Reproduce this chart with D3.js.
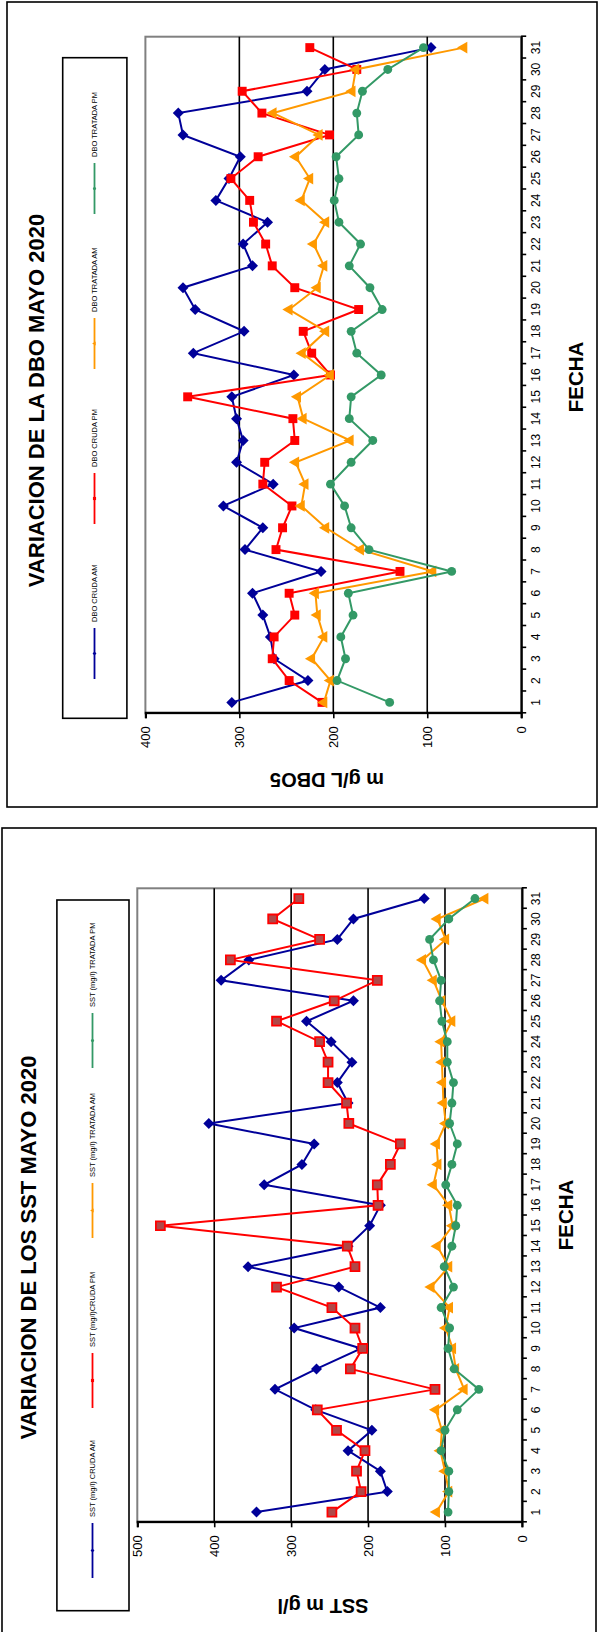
<!DOCTYPE html>
<html>
<head>
<meta charset="utf-8">
<script src="https://cdn.jsdelivr.net/npm/d3@7"></script>
<style>
body { margin: 0; background: #fff; }
svg { display: block; }
text { font-family: "Liberation Sans", Arial, sans-serif; fill: #000; }
</style>
</head>
<body>
<svg id="chart" width="603" height="1632"></svg>
<script>
// days of May 2020
var days = d3.range(1, 32);

// DBO5 (mg/L)
var dboCrudaAM   = [308, 227, 263, 267, 275, 286, 213, 294, 275, 317, 264, 303, 296, 303, 308, 242, 349, 295, 347, 360, 286, 296, 270, 325, 311, 299, 360, 365, 228, 209, 96];
var dboCrudaPM   = [212, 247, 265, 263, 241, 247, 129, 261, 254, 244, 275, 273, 241, 243, 355, 203, 223, 232, 173, 241, 265, 272, 285, 289, 309, 280, 204, 276, 297, 175, 225];
var dboTratadaAM = [210, 203, 223, 210, 217, 219, 94, 171, 208, 234, 230, 240, 182, 232, 238, 203, 233, 208, 247, 217, 210, 221, 208, 234, 225, 240, 215, 264, 180, 176, 61];
var dboTratadaPM = [140, 196, 187, 192, 179, 184, 74, 162, 181, 188, 203, 181, 158, 183, 181, 149, 175, 181, 148, 161, 183, 171, 194, 199, 194, 197, 173, 175, 169, 142, 104];
var dboLegend = ["DBO CRUDA AM", "DBO CRUDA PM", "DBO TRATADA AM", "DBO TRATADA PM"];
var dboTicks = [0, 100, 200, 300, 400];

// SST (mg/l)
var sstCrudaAM   = [345, 175, 184, 226, 195, 268, 321, 267, 209, 296, 184, 238, 356, 226, 198, 184, 335, 286, 270, 407, 226, 240, 221, 248, 280, 219, 391, 355, 240, 219, 127];
var sstCrudaPM   = [247, 209, 215, 204, 241, 266, 113, 223, 207, 217, 247, 319, 217, 227, 470, 187, 188, 171, 158, 225, 228, 252, 252, 263, 319, 244, 188, 379, 263, 324, 290];
var sstTratadaAM = [111, 95, 100, 106, 104, 112, 75, 86, 90, 99, 94, 118, 95, 110, 90, 95, 115, 109, 111, 99, 102, 103, 104, 105, 91, 104, 115, 129, 99, 110, 48];
var sstTratadaPM = [96, 95, 95, 105, 100, 84, 56, 88, 96, 94, 105, 89, 101, 91, 86, 84, 99, 91, 84, 94, 91, 89, 97, 97, 104, 107, 105, 115, 120, 95, 61];
var sstLegend = ["SST (mg/l) CRUDA AM", "SST (mg/l)CRUDA PM", "SST (mg/l) TRATADA AM", "SST (mg/l) TRATADA PM"];
var sstTicks = [0, 100, 200, 300, 400, 500];

var colors = ["#000099", "#ff0000", "#ff9900", "#339966"];
var markers = ["diamond", "square", "triangle", "circle"];

var svg = d3.select("#chart");

function markerPath(type, big) {
    var k = big ? 1 : 0.35;
    if (type === "diamond") {
        var s = 5.5 * k;
        return "M0," + (-s) + "L" + s + ",0L0," + s + "L" + (-s) + ",0Z";
    }
    if (type === "square") return d3.symbol(d3.symbolSquare, 80 * k * k)();
    if (type === "triangle") return d3.symbol(d3.symbolTriangle, 60 * k * k)();
    return d3.symbol(d3.symbolCircle, 62 * k * k)();
}

function drawPanel(cfg) {
    // the whole chart is drawn upright, then turned a quarter left
    var g = svg.append("g")
        .attr("transform", "translate(" + cfg.tx + "," + cfg.ty + ") rotate(-90)");

    g.append("rect")
        .attr("x", 0).attr("y", 0)
        .attr("width", cfg.W).attr("height", cfg.H)
        .attr("fill", "#fff").attr("stroke", "#000").attr("stroke-width", 1.6);

    var p = cfg.plot;
    var x = d3.scaleBand().domain(days).range([p.left, p.left + p.width]);
    var xLin = d3.scaleLinear().domain([0, days.length]).range([p.left, p.left + p.width]);
    var y = d3.scaleLinear().domain([0, d3.max(cfg.ticks)]).range([p.top + p.height, p.top]);

    g.append("rect")
        .attr("x", p.left).attr("y", p.top)
        .attr("width", p.width).attr("height", p.height)
        .attr("fill", "#fff").attr("stroke", "#808080").attr("stroke-width", 2);

    // gridlines
    g.append("g").selectAll("line")
        .data(cfg.ticks.slice(1, -1))
        .enter().append("line")
        .attr("x1", p.left).attr("x2", p.left + p.width)
        .attr("y1", function(d) { return y(d); })
        .attr("y2", function(d) { return y(d); })
        .attr("stroke", "#000").attr("stroke-width", 1.6);

    // value axis
    var leftAxis = g.append("g")
        .attr("transform", "translate(" + p.left + ",0)")
        .call(d3.axisLeft(y).tickValues(cfg.ticks).tickSize(5).tickPadding(8));
    leftAxis.selectAll("text").attr("font-size", 13).style("font-family", "Liberation Sans, Arial");

    // date axis: labels in bands, ticks on band edges
    var bottomAxis = g.append("g")
        .attr("transform", "translate(0," + (p.top + p.height) + ")")
        .call(d3.axisBottom(x).tickSize(0).tickPadding(10));
    bottomAxis.select(".domain").remove();
    bottomAxis.selectAll("text").attr("font-size", 12).style("font-family", "Liberation Sans, Arial");

    g.append("g")
        .attr("transform", "translate(0," + (p.top + p.height) + ")")
        .call(d3.axisBottom(xLin).tickValues(d3.range(0, days.length + 1)).tickSize(5).tickSizeOuter(0).tickFormat(""));

    g.selectAll(".domain").attr("stroke", "#000").attr("stroke-width", 2.2);
    g.selectAll(".tick line").attr("stroke", "#000").attr("stroke-width", 1.6);

    // series
    var line = d3.line()
        .x(function(d, i) { return x(days[i]) + x.bandwidth() / 2; })
        .y(function(d) { return y(d); });

    cfg.series.forEach(function(values, s) {
        g.append("path")
            .datum(values)
            .attr("d", line)
            .attr("fill", "none")
            .attr("stroke", colors[s])
            .attr("stroke-width", 2);

        g.append("g").selectAll("path")
            .data(values)
            .enter().append("path")
            .attr("transform", function(d, i) {
                return "translate(" + (x(days[i]) + x.bandwidth() / 2) + "," + y(d) + ")";
            })
            .attr("d", markerPath(markers[s], true))
            .attr("fill", (s === 1 && cfg.squareFill) ? cfg.squareFill : colors[s])
            .attr("stroke", s === 1 && cfg.squareFill ? colors[s] : "none")
            .attr("stroke-width", 1.8);
    });

    // legend
    var L = cfg.legend;
    g.append("rect")
        .attr("x", L.left).attr("y", L.top)
        .attr("width", L.width).attr("height", L.height)
        .attr("fill", "#fff").attr("stroke", "#000").attr("stroke-width", 1.6);

    cfg.labels.forEach(function(label, i) {
        var u = L.first + i * L.step;
        var e = g.append("g");
        e.append("line")
            .attr("x1", u).attr("x2", u + L.line)
            .attr("y1", L.cy).attr("y2", L.cy)
            .attr("stroke", colors[i]).attr("stroke-width", 1.8);
        e.append("path")
            .attr("transform", "translate(" + (u + L.line / 2) + "," + L.cy + ")")
            .attr("d", markerPath(markers[i], false))
            .attr("fill", colors[i]);
        e.append("text")
            .attr("x", u + L.line + 6).attr("y", L.cy)
            .attr("dy", "0.36em")
            .attr("font-size", 7.5)
            .text(label);
    });

    // titles
    g.append("text")
        .attr("x", cfg.title.u).attr("y", cfg.title.v)
        .attr("dy", "0.36em")
        .attr("text-anchor", "middle")
        .attr("font-size", 22).attr("font-weight", "bold")
        .text(cfg.title.text);

    g.append("text")
        .attr("x", cfg.xTitle.u).attr("y", cfg.xTitle.v)
        .attr("dy", "0.36em")
        .attr("text-anchor", "middle")
        .attr("font-size", 20.5).attr("font-weight", "bold")
        .text("FECHA");

    g.append("text")
        .attr("transform", "translate(" + cfg.yTitle.u + "," + cfg.yTitle.v + ") rotate(-90)")
        .attr("dy", "0.36em")
        .attr("text-anchor", "middle")
        .attr("font-size", 20).attr("font-weight", "bold")
        .text(cfg.yTitle.text);
}

drawPanel({
    tx: 7, ty: 807, W: 805, H: 590,
    plot: {left: 93.7, top: 138.4, width: 676.6, height: 375.8},
    ticks: dboTicks,
    series: [dboCrudaAM, dboCrudaPM, dboTratadaAM, dboTratadaPM],
    labels: dboLegend,
    legend: {left: 88.7, top: 55.7, width: 660.6, height: 64.2, first: 128, step: 155, line: 51, cy: 87.5},
    title: {u: 406.5, v: 29, text: "VARIACION DE LA DBO MAYO 2020"},
    xTitle: {u: 430, v: 569},
    yTitle: {u: 27, v: 320, text: "m g/L DBO5"}
});

drawPanel({
    tx: 2, ty: 1640, W: 812, H: 594,
    plot: {left: 117.7, top: 135.3, width: 634, height: 384.6},
    ticks: sstTicks,
    series: [sstCrudaAM, sstCrudaPM, sstTratadaAM, sstTratadaPM],
    labels: sstLegend,
    squareFill: "#b04848",
    legend: {left: 29.3, top: 54.9, width: 710.7, height: 72.1, first: 62, step: 170, line: 55, cy: 90.5},
    title: {u: 392.5, v: 25.7, text: "VARIACION DE LOS SST MAYO 2020"},
    xTitle: {u: 425, v: 564},
    yTitle: {u: 33.5, v: 321, text: "SST m g/l"}
});
</script>
</body>
</html>
